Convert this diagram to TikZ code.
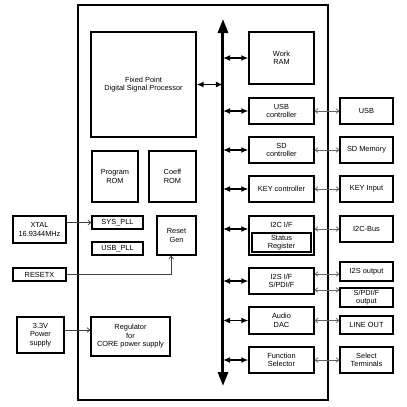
\documentclass[tikz,border=0pt]{standalone}
\usepackage{fontspec}
\setmainfont{Liberation Sans}
\usetikzlibrary{arrows.meta}
\begin{document}
\begin{tikzpicture}[
            x=0.03cm, y=-0.03cm,
            every node/.style={font=\fontsize{6.3}{7.3}\selectfont, align=center, inner sep=0pt},
            blk/.style 2 args={draw, line width=0.95pt, minimum width=#1*0.03cm, minimum height=#2*0.03cm},
            bus/.style={{Triangle[length=0.42cm, width=0.3cm]}-{Triangle[length=0.42cm, width=0.3cm]}, line width=0.09cm},
            busarr/.style={{Latex[length=6pt, width=5pt]}-{Latex[length=6pt, width=5pt]}, line width=1.2pt},
            ext/.style={{Straight Barb[length=2.5pt, width=4pt]}-{Straight Barb[length=2.5pt, width=4pt]}, draw=black!60, line width=0.6pt},
            sig/.style={-{Straight Barb[length=2.5pt, width=4pt]}, draw=black!75, line width=0.6pt}
        ]
        \useasboundingbox (0,0) rectangle (406,407);

        % chip outline and internal bus
        \node[draw, line width=1.6pt, minimum width=250*0.03cm, minimum height=395*0.03cm] (chip) at (203,202.5) {};
        \coordinate (bustop) at (223,19);
        \coordinate (busbot) at (223,386);
        \draw[bus] (busbot) -- (bustop);

        % left column inside the chip
        \node[blk={105}{105}] (dsp) at (143.5,84.5) {Fixed Point\\Digital Signal Processor};
        \node[blk={46}{51}] (prom) at (115,176.5) {Program\\ROM};
        \node[blk={47}{51}] (crom) at (172.5,176.5) {Coeff\\ROM};
        \node[blk={51}{13}] (syspll) at (117.5,222.5) {SYS\_PLL};
        \node[blk={51}{13}] (usbpll) at (117.5,248.5) {USB\_PLL};
        \node[blk={39}{39}] (rstgen) at (176.5,235.5) {Reset\\Gen};
        \node[blk={79}{39}] (reg) at (130.5,336.5) {Regulator\\for\\CORE power supply};

        % outside, left
        \node[blk={53}{27}] (xtal) at (39.5,229.5) {XTAL\\16.9344MHz};
        \node[blk={53}{13}] (resetx) at (39.5,274.5) {RESETX};
        \node[blk={47}{36}] (pwr) at (40.5,335) {3.3V\\Power\\supply};

        % right column inside the chip
        \node[blk={65}{52}] (wram) at (281.5,58) {Work\\RAM};
        \node[blk={65}{26}] (usbc) at (281.5,111) {USB\\controller};
        \node[blk={65}{26}] (sdc) at (281.5,150) {SD\\controller};
        \node[blk={65}{26}] (keyc) at (281.5,189) {KEY controller};
        \node[blk={65}{39}] (i2c) at (281.5,235.5) {};
        \node (i2clbl) at (281.5,225) {I2C I/F};
        \node[blk={59}{19}] (status) at (281.5,242.5) {Status\\Register};
        \node[blk={65}{26}] (i2s) at (281.5,281) {I2S I/F\\S/PDI/F};
        \node[blk={65}{27}] (dac) at (281.5,320.5) {Audio\\DAC};
        \node[blk={65}{26}] (fsel) at (281.5,360) {Function\\Selector};

        % outside, right
        \node[blk={53}{26}] (usb) at (366.5,111) {USB};
        \node[blk={53}{26}] (sdm) at (366.5,150) {SD Memory};
        \node[blk={53}{26}] (keyin) at (366.5,189) {KEY Input};
        \node[blk={53}{26}] (i2cbus) at (366.5,229) {I2C-Bus};
        \node[blk={53}{19}] (i2sout) at (366.5,271.5) {I2S output};
        \node[blk={53}{19}] (spdif) at (366.5,297.5) {S/PDI/F\\output};
        \node[blk={53}{18}] (lineout) at (366.5,325) {LINE OUT};
        \node[blk={53}{26}] (selt) at (366.5,360) {Select\\Terminals};

        % bus connections
        \draw[busarr] (dsp.east) -- (bustop |- dsp.east);
        \draw[busarr] (bustop |- wram.west) -- (wram.west);
        \draw[busarr] (bustop |- usbc.west) -- (usbc.west);
        \draw[busarr] (bustop |- sdc.west) -- (sdc.west);
        \draw[busarr] (bustop |- keyc.west) -- (keyc.west);
        \draw[busarr] (bustop |- i2cbus.west) -- (i2c.west |- i2cbus.west);
        \draw[busarr] (bustop |- i2s.west) -- (i2s.west);
        \draw[busarr] (bustop |- dac.west) -- (dac.west);
        \draw[busarr] (bustop |- fsel.west) -- (fsel.west);

        % external connections
        \draw[ext] (usbc.east) -- (usb.west);
        \draw[ext] (sdc.east) -- (sdm.west);
        \draw[ext] (keyc.east) -- (keyin.west);
        \draw[ext] (i2c.east |- i2cbus.west) -- (i2cbus.west);
        \draw[ext] ([yshift=0.21cm]i2s.east) -- ([yshift=0.21cm]i2s.east -| i2sout.west);
        \draw[ext] ([yshift=-0.27cm]i2s.east) -- ([yshift=-0.27cm]i2s.east -| spdif.west);
        \draw[ext] (dac.east) -- (dac.east -| lineout.west);
        \draw[ext] (fsel.east) -- (selt.west);

        \draw[sig] (xtal.east |- syspll.west) -- (syspll.west);
        \draw[sig] (resetx.east) -| ([xshift=-0.16cm]rstgen.south);
        \draw[sig] ([yshift=0.15cm]pwr.east) -- ([yshift=0.15cm]pwr.east -| reg.west);

        \end{tikzpicture}
\end{document}
